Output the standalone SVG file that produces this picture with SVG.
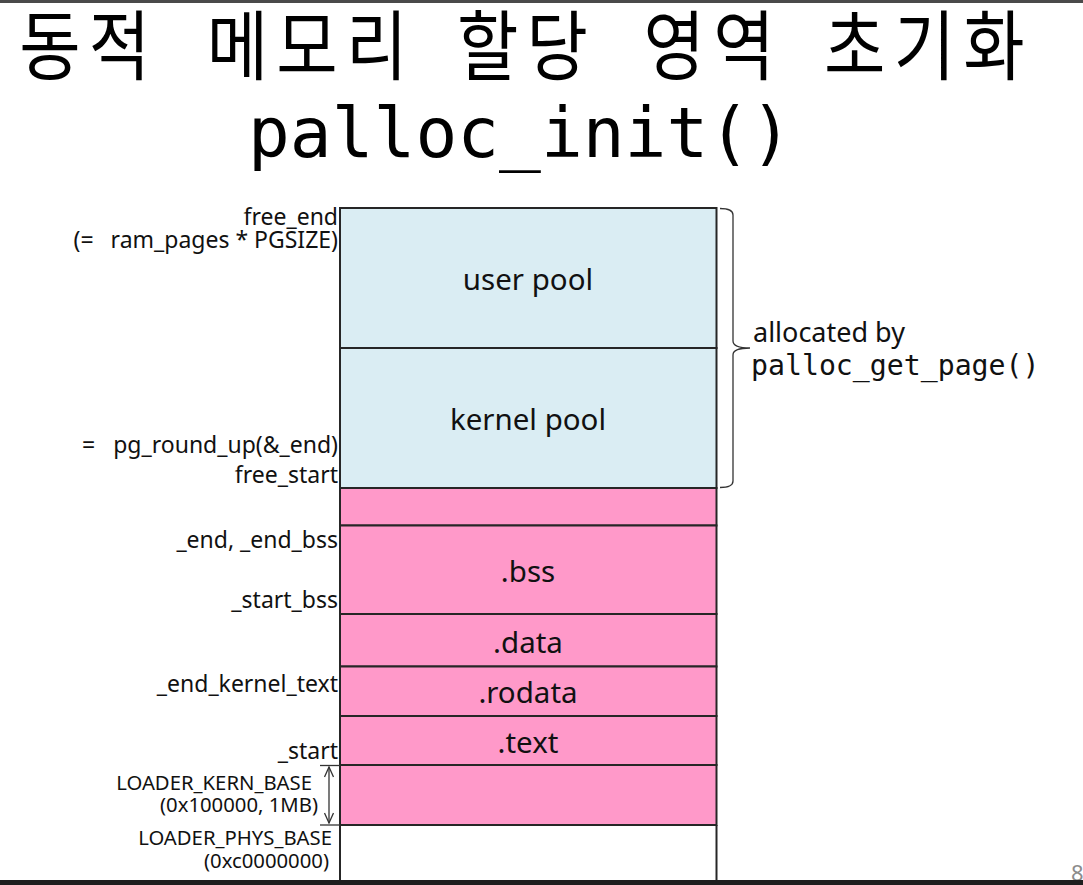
<svg xmlns="http://www.w3.org/2000/svg" width="1083" height="885" viewBox="0 0 1083 885">
<style>
  .lbl { font-family: "Noto Sans", "Open Sans", sans-serif; font-size: 23px; fill: #111; text-anchor: end; }
  .sm { font-family: "Noto Sans", "Open Sans", sans-serif; font-size: 20.3px; fill: #111; text-anchor: end; }
  .seg { font-family: "Noto Sans", "Open Sans", sans-serif; font-size: 29.5px; fill: #111; text-anchor: middle; }
  .blue { fill: #DAEDF3; stroke: #262626; stroke-width: 2; }
  .pink { fill: #FF99C9; stroke: #262626; stroke-width: 2; }
  .ln { stroke: #262626; stroke-width: 2; fill: none; }
  .thin { stroke: #333; stroke-width: 1.3; fill: none; }
</style>
<defs>
  <marker id="chev" viewBox="0 0 12 10" refX="11" refY="5" markerWidth="12" markerHeight="10" markerUnits="userSpaceOnUse" orient="auto-start-reverse">
    <path d="M1,0.5 L11,5 L1,9.5" fill="none" stroke="#333" stroke-width="1.3"/>
  </marker>
</defs>
<rect x="0" y="0" width="1083" height="885" fill="#ffffff"/>
<rect x="0" y="0" width="1083" height="3" fill="#4a4a4a"/>

<g id="title">
  <text y="73.5" transform="scale(0.872,1)" font-family="'Noto Sans CJK KR', 'Noto Sans CJK SC', sans-serif" font-size="76.5" letter-spacing="9.5" fill="#000"><tspan x="22">동적</tspan> <tspan x="237">메모리</tspan> <tspan x="524">할당</tspan> <tspan x="738">영역</tspan> <tspan x="945">초기화</tspan></text>
  <text x="520" y="157" font-family="'DejaVu Sans Mono', 'Liberation Mono', monospace" font-size="69.5" text-anchor="middle" fill="#000">palloc_init()</text>
</g>

<g id="user-pool">
  <rect class="blue" x="340" y="208" width="376.5" height="140"/>
  <text class="seg" x="528" y="290" font-size="30">user pool</text>
</g>
<g id="kernel-pool">
  <rect class="blue" x="340" y="348" width="376.5" height="140"/>
  <text class="seg" x="528" y="430" font-size="30">kernel pool</text>
</g>
<g id="gap">
  <rect class="pink" x="340" y="488" width="376.5" height="37.5"/>
</g>
<g id="bss">
  <rect class="pink" x="340" y="525.5" width="376.5" height="88.5"/>
  <text class="seg" x="528" y="582">.bss</text>
</g>
<g id="data">
  <rect class="pink" x="340" y="614" width="376.5" height="52.5"/>
  <text class="seg" x="528" y="653">.data</text>
</g>
<g id="rodata">
  <rect class="pink" x="340" y="666.5" width="376.5" height="49.5"/>
  <text class="seg" x="528" y="703">.rodata</text>
</g>
<g id="text">
  <rect class="pink" x="340" y="716" width="376.5" height="49"/>
  <text class="seg" x="528" y="753">.text</text>
</g>
<g id="loader">
  <rect class="pink" x="340" y="765" width="376.5" height="60"/>
</g>
<g id="below">
  <line class="ln" x1="340" y1="825" x2="340" y2="881"/>
  <line class="ln" x1="716.5" y1="825" x2="716.5" y2="881"/>
</g>

<g id="labels">
  <text class="lbl" x="338" y="225">free_end</text>
  <text class="lbl" x="338" y="248">(=<tspan dx="11"> ram_pages * PGSIZE)</tspan></text>
  <text class="lbl" x="338" y="453">=<tspan dx="12"> pg_round_up(&amp;_end)</tspan></text>
  <text class="lbl" x="338" y="483">free_start</text>
  <text class="lbl" x="338" y="548">_end, _end_bss</text>
  <text class="lbl" x="338" y="608">_start_bss</text>
  <text class="lbl" x="338" y="692">_end_kernel_text</text>
  <text class="lbl" x="338" y="759">_start</text>
  <text class="sm" x="312" y="790">LOADER_KERN_BASE</text>
  <text class="sm" x="318" y="812">(0x100000, 1MB)</text>
  <text class="sm" x="332" y="845">LOADER_PHYS_BASE</text>
  <text class="sm" x="329" y="868">(0xc0000000)</text>
</g>

<g id="alloc-note">
  <text x="753" y="342" font-family="'Noto Sans', 'Open Sans', sans-serif" font-size="27" fill="#111">allocated by</text>
  <text x="751" y="375" font-family="'DejaVu Sans Mono', 'Liberation Mono', monospace" font-size="28.2" fill="#111">palloc_get_page()</text>
</g>

<g id="connectors">
  <path class="thin" d="M720,208.5 Q733,208.5 733,215 L733,341 Q733,348 750,348 Q733,348 733,355 L733,481 Q733,487.5 720,487.5"/>
  <line class="thin" x1="320" y1="765.5" x2="340" y2="765.5"/>
  <line class="thin" x1="320" y1="825" x2="340" y2="825"/>
  <line class="thin" x1="329" y1="767" x2="329" y2="823" marker-start="url(#chev)" marker-end="url(#chev)"/>
</g>

<text x="1071" y="881" font-family="'Noto Sans', 'Open Sans', sans-serif" font-size="22" fill="#8c8c8c">8</text>
<rect x="0" y="880" width="1083" height="5" fill="#1e1e1e"/>
</svg>
